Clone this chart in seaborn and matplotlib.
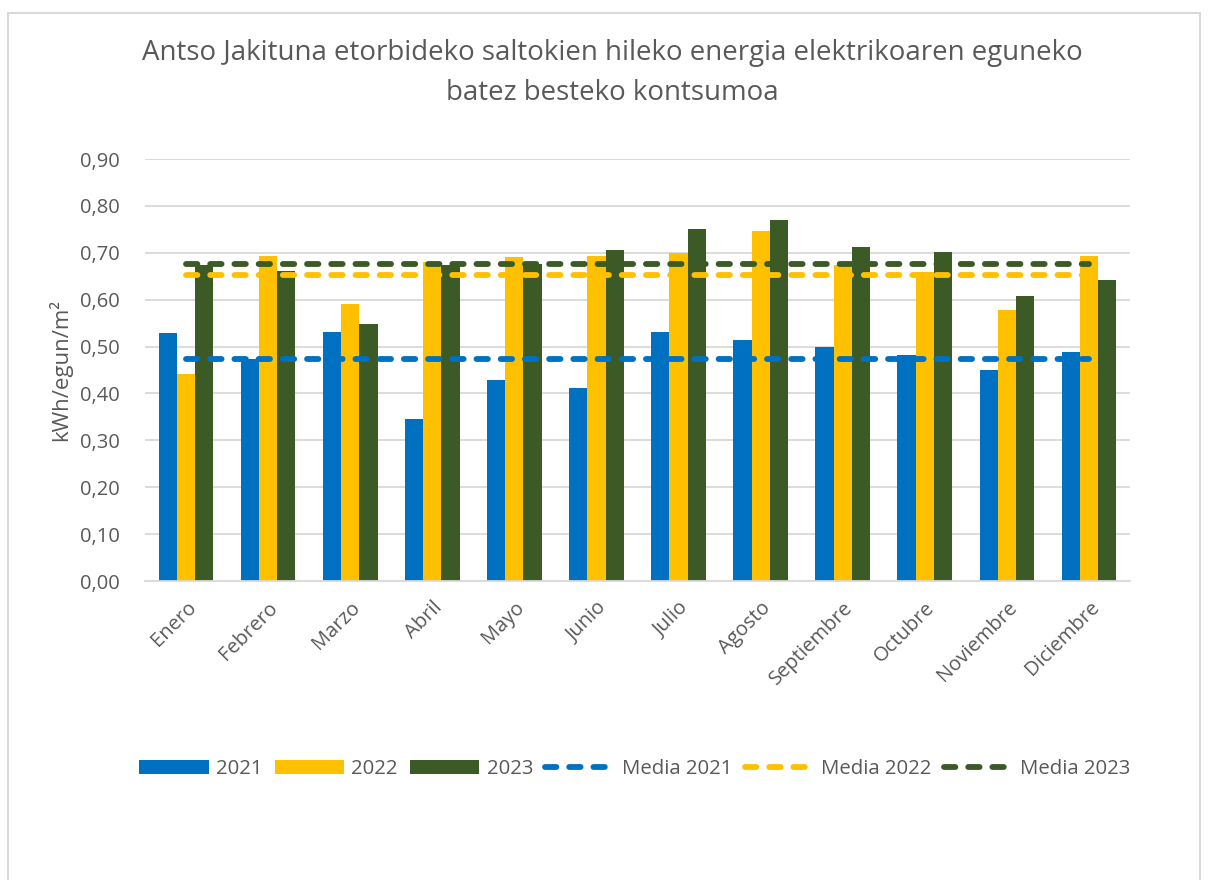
import numpy as np
import pandas as pd
import matplotlib
matplotlib.use("Agg")
import matplotlib.pyplot as plt
import seaborn as sns
from matplotlib.patches import Patch, Rectangle
from matplotlib.lines import Line2D

months = ["Enero", "Febrero", "Marzo", "Abril", "Mayo", "Junio", "Julio",
          "Agosto", "Septiembre", "Octubre", "Noviembre", "Diciembre"]
years = ["2021", "2022", "2023"]
v2021 = [0.529, 0.474, 0.530, 0.346, 0.428, 0.411, 0.530, 0.513, 0.498, 0.482, 0.450, 0.489]
v2022 = [0.442, 0.694, 0.591, 0.680, 0.691, 0.693, 0.700, 0.747, 0.673, 0.658, 0.578, 0.693]
v2023 = [0.673, 0.662, 0.549, 0.673, 0.675, 0.705, 0.751, 0.770, 0.712, 0.702, 0.608, 0.642]
yticks = [0.0, 0.1, 0.2, 0.3, 0.4, 0.5, 0.6, 0.7, 0.8, 0.9]
ytick_labels = ["0,00", "0,10", "0,20", "0,30", "0,40", "0,50", "0,60", "0,70", "0,80", "0,90"]

colors = {"2021": "#0070C0", "2022": "#FFC000", "2023": "#3B5A26"}
title = ("Antso Jakituna etorbideko saltokien hileko energia elektrikoaren eguneko\n"
         "batez besteko kontsumoa")

sns.set_theme(style="white")
plt.rcParams["font.family"] = ["Open Sans", "DejaVu Sans"]
txt = "#595959"

df = pd.DataFrame({
    "Mes": months * 3,
    "Año": [y for y in years for _ in months],
    "Valor": v2021 + v2022 + v2023,
})

fig = plt.figure(figsize=(12.08, 8.8), dpi=100)
ax = fig.add_axes([145/1208, 1-581/880, (1130-145)/1208, (581-159)/880])

sns.barplot(data=df, x="Mes", y="Valor", hue="Año", order=months, hue_order=years,
            palette=colors, width=0.667, gap=0, saturation=1, ax=ax, legend=False,
            edgecolor="none", linewidth=0, zorder=2)

LW = 4.2
means = {y: float(np.mean(v)) for y, v in zip(years, [v2021, v2022, v2023])}
for y in years:
    ax.plot([0, len(months) - 1], [means[y], means[y]], color=colors[y], lw=LW,
            dashes=(1.95, 2.2), dash_capstyle="round", zorder=3)

ax.set_ylim(0, 0.9)
ax.set_xlim(-0.5, len(months) - 0.5)
ax.set_yticks(yticks)
ax.set_yticklabels(ytick_labels, fontsize=14.5, color=txt)
ax.grid(axis="y", color="#D9D9D9", lw=1.3, zorder=0)
ax.set_axisbelow(True)
for s in ["top", "right", "left"]:
    ax.spines[s].set_visible(False)
ax.spines["bottom"].set_color("#D9D9D9")
ax.spines["bottom"].set_linewidth(1.3)
ax.tick_params(axis="both", length=0)
ax.tick_params(axis="y", pad=18)
ax.tick_params(axis="x", pad=12)
ax.set_xticks(range(len(months)))
ax.set_xticklabels(months, rotation=45, ha="right", rotation_mode="anchor",
                   fontsize=14.5, color=txt)
ax.set_xlabel("")
ax.set_ylabel("kWh/egun/m²", fontsize=16, color=txt, labelpad=6)

fig.text(612/1208, 1-73/880, title, ha="center", va="center", fontsize=19.9,
         color=txt, linespacing=1.6)

handles = [Patch(facecolor=colors[y], edgecolor="none") for y in years] + \
          [Line2D([0], [0], color=colors[y], lw=LW, dashes=(1.95, 2.2),
                  dash_capstyle="round") for y in years]
labels = years + ["Media " + y for y in years]
fig.legend(handles, labels, loc="center", bbox_to_anchor=(635/1208, 1-769/880), ncol=6,
           frameon=False, fontsize=14.7, labelcolor=txt, handlelength=3.4,
           handletextpad=0.35, columnspacing=0.6, handleheight=0.7)

fig.patches.append(Rectangle((8/1208, -0.05), (1200-8)/1208, 1.05-13/880,
                             transform=fig.transFigure, fill=False,
                             edgecolor="#D9D9D9", lw=1.5))

fig.savefig("out.png", dpi=100)
